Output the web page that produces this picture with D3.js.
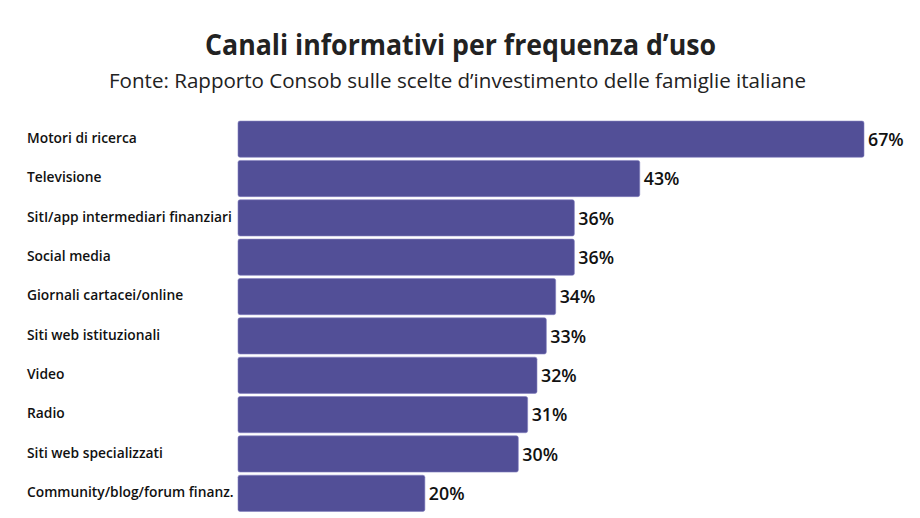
<!DOCTYPE html>
<html><head><meta charset="utf-8">
<script src="https://cdn.jsdelivr.net/npm/d3@7"></script>
<style>body{margin:0;background:#fff;}svg{display:block;}</style>
</head><body>
<svg id="chart" width="920" height="518"></svg>
<script>
const categories = ["Motori di ricerca","Televisione","SitI/app intermediari finanziari","Social media","Giornali cartacei/online","Siti web istituzionali","Video","Radio","Siti web specializzati","Community/blog/forum finanz."];
const values = [67,43,36,36,34,33,32,31,30,20];
const title = "Canali informativi per frequenza d\u2019uso";
const subtitle = "Fonte: Rapporto Consob sulle scelte d\u2019investimento delle famiglie italiane";

(function(){
const svg = d3.select("#chart");
const mLeft = 238, mTop = 119.5, mBottom = 513;
const x = d3.scaleLinear().domain([0, 67]).range([mLeft, 864]);
const y = d3.scaleBand().domain(categories).range([mTop, mBottom]).paddingInner(0.08).paddingOuter(0.04);

svg.append("text").attr("x", 460.5).attr("y", 55).attr("text-anchor","middle")
  .attr("font-family","'Open Sans', sans-serif").attr("font-weight",700).attr("font-size",28)
  .attr("fill","#222").attr("textLength",511).attr("lengthAdjust","spacingAndGlyphs").text(title);
svg.append("text").attr("x", 457.5).attr("y", 88).attr("text-anchor","middle")
  .attr("font-family","'Open Sans', sans-serif").attr("font-weight",400).attr("font-size",20)
  .attr("fill","#222").attr("textLength",697).attr("lengthAdjust","spacingAndGlyphs").text(subtitle);

const g = svg.append("g");
g.selectAll("rect").data(categories).join("rect")
  .attr("x", x(0)).attr("y", d => y(d))
  .attr("width", (d,i) => x(values[i]) - x(0)).attr("height", y.bandwidth())
  .attr("rx", 2).attr("fill", "#524f97").attr("stroke","#8380c0").attr("stroke-width",0.6);

g.selectAll("text.cat").data(categories).join("text").attr("class","cat")
  .attr("x", 27).attr("y", d => y(d) + y.bandwidth()/2 - 1).attr("dy","0.35em")
  .attr("font-family","'Open Sans', sans-serif").attr("font-weight",600).attr("font-size",13.8)
  .attr("fill","#111").text(d => d);

g.selectAll("text.val").data(categories).join("text").attr("class","val")
  .attr("x", (d,i) => x(values[i]) + 4).attr("y", d => y(d) + y.bandwidth()/2 + 0.5).attr("dy","0.35em")
  .attr("font-family","'Open Sans', sans-serif").attr("font-weight",600).attr("font-size",17.8)
  .attr("fill","#111").text((d,i) => values[i] + "%");
})();
</script>
</body></html>
